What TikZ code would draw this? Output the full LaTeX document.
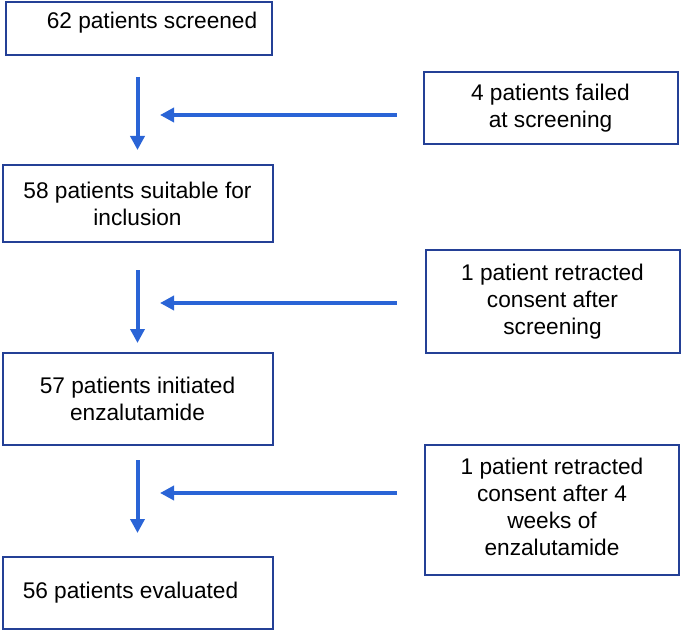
\documentclass[tikz,border=0pt]{standalone}
\usepackage{fontspec}
\setmainfont{Liberation Sans}
\usepackage{xcolor}
\usetikzlibrary{arrows.meta,positioning}
\definecolor{boxblue}{RGB}{36,64,150}
\definecolor{arrblue}{RGB}{42,100,214}

\begin{document}
\begin{tikzpicture}[x=0.75pt,y=-0.75pt,
      box/.style={draw=boxblue,line width=1.5pt,fill=white,align=center,
        inner sep=0pt,font=\fontsize{17}{20.2}\selectfont},
      lbox/.style={box,minimum width=202.5pt},
      rbox/.style={box,minimum width=190.5pt},
      arr/.style={-{Triangle[length=10.5pt,width=10.5pt]},arrblue,line width=3pt}]
    \useasboundingbox (0,0) rectangle (682,631);
    % left column
    \node[lbox,minimum width=199.5pt,minimum height=39.75pt](scr) at (139,28.5){};
    \node[font=\fontsize{17}{20}\selectfont](scrtxt) at ([shift={(13,-6)}]scr.center){62 patients screened};
    \node[lbox,minimum height=57.75pt](suit) at (137.5,203.5){58 patients suitable for\\inclusion};
    \node[lbox,minimum height=69pt](init) at (137.5,399){57 patients initiated\\enzalutamide};
    \node[lbox,minimum height=54pt](eval) at (137.5,593){\hspace*{-10.5pt}56 patients evaluated};
    % right column
    \node[rbox,minimum height=54pt](fail) at (550.5,108){4 patients failed\\at screening};
    \node[rbox,minimum height=77.25pt](retr) at (552.5,301.5){1 patient retracted\\consent after\\screening};
    \node[rbox,minimum height=97.5pt](wdr) at (552,510){\raisebox{-3pt}{\begin{tabular}{@{}c@{}}1 patient retracted\\consent after 4\\weeks of\\enzalutamide\end{tabular}}};
    \coordinate (m1) at (160,115);
    \coordinate (m2) at (160,303);
    \coordinate (m3) at (160,493);
    % arrows
    \draw[arr,shorten <=15.75pt,shorten >=10.5pt](scr.south -| suit.north)--(suit.north);
    \draw[arr,shorten <=20.25pt,shorten >=6.75pt](suit.south)--(init.north);
    \draw[arr,shorten <=10.5pt,shorten >=17.25pt](init.south)--(eval.north);
    \draw[arr,shorten <=19.5pt](fail.west |- m1)--(m1);
    \draw[arr,shorten <=21pt](retr.west |- m2)--(m2);
    \draw[arr,shorten <=20.25pt](wdr.west |- m3)--(m3);
  \end{tikzpicture}
\end{document}
